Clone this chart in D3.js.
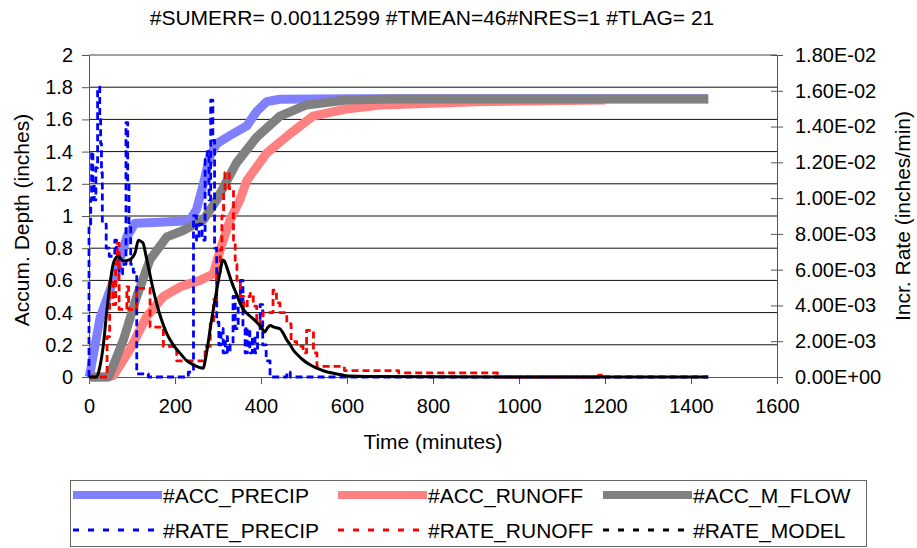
<!DOCTYPE html>
<html>
<head>
<meta charset="utf-8">
<script src="https://cdn.jsdelivr.net/npm/d3@7"></script>
<style>
body { margin: 0; background: #fff; }
text { font-family: "Liberation Sans", Arial, sans-serif; fill: #000; }
</style>
</head>
<body>
<svg id="chart" width="917" height="548"></svg>
<script>
// [time (min), accumulated depth (inches)]
var accPrecip = [[0,0],[2,0.02],[26,0.37],[57,0.6],[88,0.87],[107,0.955],[150,0.96],[234,0.97],[250,1.04],[266,1.2],[281,1.37],[297,1.45],[328,1.5],[367,1.56],[390,1.65],[413,1.71],[444,1.725],[600,1.728],[1440,1.728]];
var accRunoff = [[0,0],[45,0],[57,0.01],[95,0.17],[134,0.375],[173,0.5],[212,0.56],[258,0.6],[289,0.64],[305,0.79],[328,0.975],[351,1.1],[367,1.22],[413,1.39],[467,1.51],[521,1.62],[599,1.665],[677,1.69],[800,1.70],[900,1.71],[1200,1.72]];
var accMFlow = [[0,0],[45,0],[49,0.02],[80,0.23],[111,0.5],[142,0.73],[181,0.87],[219,0.91],[266,0.975],[297,1.1],[343,1.33],[390,1.49],[444,1.62],[506,1.69],[599,1.72],[700,1.727],[1440,1.727]];

// [time (min), rate (inches/min)]
var ratePrecip = [[0,0],[0,0.00855],[4,0.0099],[6,0.0126],[9,0.0108],[12,0.0099],[16,0.0117],[20,0.0162],[25,0.0144],[27,0.01305],[29,0.01143],[31,0.00855],[40,0.0072],[47,0.00675],[60,0.00765],[64,0.00684],[70,0.00576],[78,0.0063],[86,0.01422],[90,0.0108],[93,0.00855],[97,0.0063],[103,0.00585],[111,0.00018],[138,0],[231,0.00027],[243,0.009],[250,0.00765],[256,0.00855],[263,0.00765],[270,0.01215],[275,0.0126],[279,0.0099],[283,0.01548],[288,0.01323],[292,0.0072],[297,0.00306],[302,0.0018],[307,0.0027],[312,0.00135],[317,0.00225],[322,0.00135],[328,0.0018],[335,0.0045],[340,0.0027],[347,0.00405],[352,0.0054],[358,0.0027],[363,0.00135],[368,0.0027],[374,0.00135],[380,0.00225],[386,0.00135],[392,0.0027],[398,0.00405],[404,0.0018],[412,0.0009],[421,0],[460,0.00027],[468,0],[1440,0]];
var rateRunoff = [[0,0],[42,0.00225],[48,0.0054],[56,0.00405],[62,0.0063],[66,0.00747],[70,0.00378],[88,0.00504],[92,0.00378],[111,0.00495],[142,0.00279],[173,0.00171],[204,0.0009],[270,0.00171],[282,0.00297],[290,0.00432],[297,0.00576],[305,0.00711],[309,0.009],[313,0.01035],[316,0.01143],[326,0.01053],[336,0.00765],[340,0.0063],[344,0.0054],[352,0.0045],[360,0.00387],[368,0.0045],[375,0.00468],[382,0.00396],[390,0.00297],[398,0.00342],[405,0.0036],[428,0.00486],[436,0.00414],[444,0.0036],[460,0.00297],[470,0.00198],[483,0.00171],[498,0.00135],[506,0.00261],[522,0.00135],[530,0.00059],[594,0.00036],[720,0.00023],[950,0.00018],[955,0],[1185,0.0001],[1192,0],[1200,0]];
var rateModel = [[0,0],[18,0],[25,0.00054],[33,0.00171],[41,0.0036],[49,0.00522],[57,0.00639],[68,0.00675],[80,0.00648],[95,0.00657],[107,0.00693],[115,0.00765],[122,0.00756],[126,0.00747],[132,0.00684],[138,0.00617],[147,0.00513],[157,0.00414],[168,0.00324],[181,0.00243],[196,0.0018],[212,0.00132],[228,0.0009],[243,0.00068],[256,0.00054],[266,0.00049],[270,0.0009],[277,0.00189],[283,0.00288],[289,0.00378],[295,0.00459],[301,0.0054],[306,0.00603],[311,0.00654],[315,0.00648],[320,0.00617],[328,0.00558],[336,0.00504],[344,0.00459],[351,0.00414],[359,0.00378],[367,0.00356],[378,0.00333],[390,0.00306],[400,0.00279],[409,0.00252],[414,0.0027],[421,0.00288],[430,0.00279],[444,0.0027],[452,0.00243],[460,0.00207],[468,0.0018],[475,0.00151],[486,0.00122],[498,0.00095],[514,0.00068],[530,0.00049],[548,0.00032],[568,0.00021],[590,0.00011],[607,0.00005],[650,0.00003],[800,0.00001],[1440,0]];

var xTicks = [0, 200, 400, 600, 800, 1000, 1200, 1400, 1600];
var leftTicks = [0, 0.2, 0.4, 0.6, 0.8, 1, 1.2, 1.4, 1.6, 1.8, 2];
var rightTicks = [0, 0.002, 0.004, 0.006, 0.008, 0.01, 0.012, 0.014, 0.016, 0.018];

var titleText = "#SUMERR= 0.00112599 #TMEAN=46#NRES=1 #TLAG= 21";

var svg = d3.select("#chart");
var font = '"Liberation Sans", Arial, sans-serif';

var x = d3.scaleLinear().domain([0, 1600]).range([89, 777]);
var yL = d3.scaleLinear().domain([0, 2]).range([377, 55]);
var yR = d3.scaleLinear().domain([0, 0.018]).range([377, 55]);

// gridlines
svg.append("g").selectAll("line")
	.data(leftTicks.filter(function(d){ return d > 0 && d < 2; }))
	.enter().append("line")
	.attr("x1", 89).attr("x2", 777)
	.attr("y1", function(d){ return yL(d); })
	.attr("y2", function(d){ return yL(d); })
	.attr("stroke", "#111").attr("stroke-width", 1);

svg.append("line").attr("x1", 89).attr("x2", 777).attr("y1", 55).attr("y2", 55)
	.attr("stroke", "#a0a0a0").attr("stroke-width", 2);

function expFmt(d){
	var parts = d.toExponential(2).split("e");
	var e = parts[1];
	var sign = e[0];
	var num = e.slice(1);
	if (num.length < 2) num = "0" + num;
	return parts[0] + "E" + sign + num;
}

function styleAxis(g){
	g.attr("font-family", font).attr("font-size", 20);
	g.select(".domain").attr("stroke", "#555");
	g.selectAll(".tick line").attr("stroke", "#555");
	g.selectAll(".tick text").attr("fill", "#000");
}

svg.append("g").attr("transform", "translate(89,0)")
	.call(d3.axisLeft(yL).tickValues(leftTicks).tickSize(7).tickSizeOuter(0).tickPadding(9).tickFormat(d3.format("~g")))
	.call(styleAxis);

svg.append("g").attr("transform", "translate(777,0)")
	.call(d3.axisRight(yR).tickValues(rightTicks).tickSize(6).tickSizeOuter(0).tickPadding(12).tickFormat(expFmt))
	.call(styleAxis)
	.call(function(g){ g.selectAll(".tick line").attr("x1", -6).attr("x2", 6); });

svg.append("g").attr("transform", "translate(0,377)")
	.call(d3.axisBottom(x).tickValues(xTicks).tickSize(7).tickSizeOuter(0).tickPadding(15).tickFormat(d3.format("d")))
	.call(styleAxis);

// series
var lineAcc = d3.line().x(function(d){ return x(d[0]); }).y(function(d){ return yL(d[1]); });
var lineStep = d3.line().x(function(d){ return x(d[0]); }).y(function(d){ return yR(d[1]); }).curve(d3.curveStepAfter);
var lineSmooth = d3.line().x(function(d){ return x(d[0]); }).y(function(d){ return yR(d[1]); }).curve(d3.curveMonotoneX);

var series = [
	{ name: "#ACC_PRECIP", data: accPrecip, gen: lineAcc, color: "#8080ff", width: 9, dash: null, legDash: null },
	{ name: "#ACC_RUNOFF", data: accRunoff, gen: lineAcc, color: "#ff8080", width: 9, dash: null, legDash: null },
	{ name: "#ACC_M_FLOW", data: accMFlow, gen: lineAcc, color: "#808080", width: 9, dash: null, legDash: null },
	{ name: "#RATE_PRECIP", data: ratePrecip, gen: lineStep, color: "#0000ff", width: 2.8, dash: "7,4", legDash: "6,9" },
	{ name: "#RATE_RUNOFF", data: rateRunoff, gen: lineStep, color: "#ff0000", width: 2.8, dash: "7,4", legDash: "6,9" },
	{ name: "#RATE_MODEL", data: rateModel, gen: lineSmooth, color: "#000000", width: 3, dash: null, legDash: "6,9" }
];

svg.append("g").selectAll("path").data(series).enter().append("path")
	.attr("d", function(s){ return s.gen(s.data); })
	.attr("fill", "none")
	.attr("stroke", function(s){ return s.color; })
	.attr("stroke-width", function(s){ return s.width; })
	.attr("stroke-dasharray", function(s){ return s.dash; })
	.attr("stroke-linejoin", "round");

// titles
svg.append("text").attr("x", 432).attr("y", 25).attr("text-anchor", "middle")
	.attr("font-size", 21).text(titleText);
svg.append("text").attr("x", 433).attr("y", 449).attr("text-anchor", "middle")
	.attr("font-size", 21).text("Time (minutes)");
svg.append("text").attr("transform", "translate(29,220) rotate(-90)").attr("text-anchor", "middle")
	.attr("font-size", 21).text("Accum. Depth (inches)");
svg.append("text").attr("transform", "translate(910,216) rotate(-90)").attr("text-anchor", "middle")
	.attr("font-size", 21).text("Incr. Rate (inches/min)");

// legend
var leg = svg.append("g");
leg.append("rect").attr("x", 70.5).attr("y", 480.5).attr("width", 796).attr("height", 66)
	.attr("fill", "#fff").attr("stroke", "#666");
var colX = [73, 338, 603];
var rowY = [495, 530];
var items = leg.selectAll("g.item").data(series).enter().append("g").attr("class", "item")
	.attr("transform", function(s, i){ return "translate(" + colX[i % 3] + "," + rowY[Math.floor(i / 3)] + ")"; });
items.append("line").attr("x1", 0).attr("x2", 89).attr("y1", 0).attr("y2", 0)
	.attr("stroke", function(s){ return s.color; })
	.attr("stroke-width", function(s){ return s.width === 9 ? 8 : 3; })
	.attr("stroke-dasharray", function(s){ return s.legDash; });
items.append("text").attr("x", 90).attr("y", 7.5).attr("font-size", 21).text(function(s){ return s.name; });
</script>
</body>
</html>
